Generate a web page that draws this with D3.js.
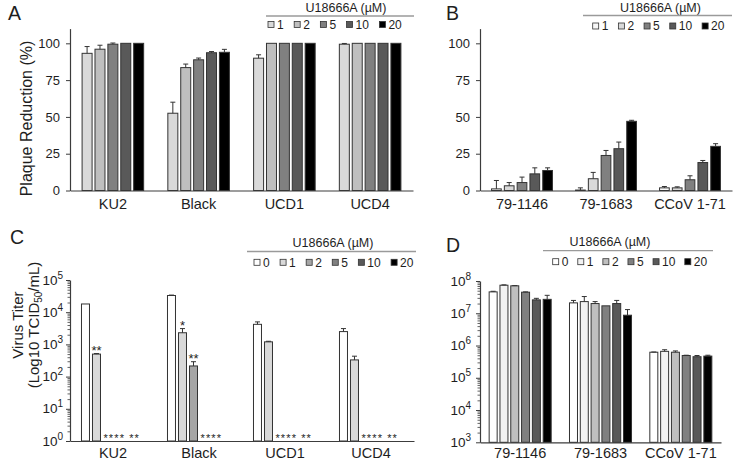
<!DOCTYPE html>
<html><head><meta charset="utf-8">
<script src="https://cdn.jsdelivr.net/npm/d3@7"></script>
<style>
body{margin:0;background:#fff;}
svg{display:block;font-family:"Liberation Sans",Arial,sans-serif;}
</style></head><body>
<svg id="c" width="733" height="460"></svg>
<script>
// ---------- Panel A: plaque reduction (%) ----------
const aGroups = ["KU2", "Black", "UCD1", "UCD4"];
const aDoses = ["1", "2", "5", "10", "20"];
const aS1 = [93.2, 52.5, 89.9, 99.4];
const aS2 = [96.0, 83.5, 100, 100];
const aS3 = [99.4, 88.8, 100, 100];
const aS4 = [100, 93.6, 100, 100];
const aS5 = [100, 93.9, 100, 100];
const aE1 = [4.6, 7.5, 2.3, 0.5];
const aE2 = [2.7, 2.4, 0, 0];
const aE3 = [0.8, 1.2, 0, 0];
const aE4 = [0, 0.8, 0, 0];
const aE5 = [0, 2.0, 0, 0];
const aTicks = [0, 25, 50, 75, 100];

// ---------- Panel B: plaque reduction (%) ----------
const bGroups = ["79-1146", "79-1683", "CCoV 1-71"];
const bDoses = ["1", "2", "5", "10", "20"];
const bS1 = [1.1, 0.3, 1.8];
const bS2 = [3.2, 8.0, 1.8];
const bS3 = [5.4, 23.8, 7.3];
const bS4 = [11.3, 28.4, 19.0];
const bS5 = [13.6, 47.0, 30.0];
const bE1 = [5.7, 1.5, 0.9];
const bE2 = [2.2, 4.3, 0.7];
const bE3 = [3.7, 3.4, 2.7];
const bE4 = [4.1, 4.5, 1.4];
const bE5 = [1.8, 0.7, 1.8];
const bTicks = [0, 25, 50, 75, 100];

// ---------- Panel C: virus titer (log) ----------
const cGroups = ["KU2", "Black", "UCD1", "UCD4"];
const cDoses = ["0", "1", "2", "5", "10", "20"];
const cS0 = [18000, 33000, 4200, 2500];
const cS1 = [500, 2300, 1200, 330];
const cS2 = [0, 214, 0, 0];
const cS3 = [0, 0, 0, 0];
const cS4 = [0, 0, 0, 0];
const cS5 = [0, 0, 0, 0];
const cE0 = [0, 1000, 800, 600];
const cE1 = [20, 800, 50, 100];
const cE2 = [0, 76, 0, 0];
const cE3 = [0, 0, 0, 0];
const cE4 = [0, 0, 0, 0];
const cE5 = [0, 0, 0, 0];
const cStarsTop = [["", "**", "", "", "", ""], ["", "*", "**", "", "", ""], ["", "", "", "", "", ""], ["", "", "", "", "", ""]];
const cStarsBase = ["**** **", "****", "**** **", "**** **"];
const cStarsFrom = [2, 3, 2, 2];
const cTickExp = [0, 1, 2, 3, 4, 5];

// ---------- Panel D: virus titer (log) ----------
const dGroups = ["79-1146", "79-1683", "CCoV 1-71"];
const dDoses = ["0", "1", "2", "5", "10", "20"];
const dS0 = [4.6e7, 2.1e7, 6.2e5];
const dS1 = [7.4e7, 2.3e7, 6.6e5];
const dS2 = [7.1e7, 2.0e7, 6.2e5];
const dS3 = [4.5e7, 1.7e7, 4.9e5];
const dS4 = [2.6e7, 2.0e7, 4.5e5];
const dS5 = [2.7e7, 8.7e6, 4.7e5];
const dE0 = [2e6, 4e6, 1e4];
const dE1 = [2e6, 1e7, 8e4];
const dE2 = [1e6, 3e6, 6e4];
const dE3 = [1e6, 0, 1e4];
const dE4 = [3e6, 5e6, 4e4];
const dE5 = [9e6, 4.3e6, 3e4];
const dTickExp = [3, 4, 5, 6, 7, 8];

const legendTitle = "U18666A (µM)";

// ---------- drawing ----------
const svg = d3.select("#c");
const AX = "#3c3c3c", TXT = "#1e1e1e", EDGE = "#333";

function barPanel(o) {
  const g = svg.append("g");
  const xg = d3.scaleBand().domain(o.groups).range([o.x0, o.x1]).paddingInner(o.gp).paddingOuter(o.gp / 2);
  const xs = d3.scaleBand().domain(d3.range(o.values.length)).range([0, xg.bandwidth()]).paddingInner(o.bp);
  const yBase = o.y.range()[0];
  const bars = [];
  o.values.forEach((ser, i) => ser.forEach((v, j) => {
    bars.push({i, j, v, e: o.errs[i][j], x: xg(o.groups[j]) + xs(i)});
  }));
  const drawn = bars.filter(d => d.v > 0);
  g.selectAll("rect.bar").data(drawn).join("rect")
    .attr("x", d => d.x).attr("y", d => o.y(d.v))
    .attr("width", xs.bandwidth()).attr("height", d => yBase - o.y(d.v))
    .attr("fill", d => o.colors[d.i]).attr("stroke", EDGE).attr("stroke-width", 1);
  const eb = drawn.filter(d => d.e > 0);
  const cx = d => d.x + xs.bandwidth() / 2;
  g.selectAll("line.ev").data(eb).join("line")
    .attr("x1", cx).attr("x2", cx)
    .attr("y1", d => o.y(d.v)).attr("y2", d => o.y(d.v + d.e))
    .attr("stroke", EDGE).attr("stroke-width", 1);
  g.selectAll("line.ec").data(eb).join("line")
    .attr("x1", d => cx(d) - 2.5).attr("x2", d => cx(d) + 2.5)
    .attr("y1", d => o.y(d.v + d.e)).attr("y2", d => o.y(d.v + d.e))
    .attr("stroke", EDGE).attr("stroke-width", 1);
  const xa = g.append("g").attr("transform", `translate(0,${yBase})`)
    .call(d3.axisBottom(xg).tickSize(0).tickPadding(o.xpad));
  xa.select(".domain").attr("stroke", AX).attr("stroke-width", 1.2);
  xa.selectAll("text").attr("font-size", 14.5).attr("fill", TXT).attr("font-family", null);
  return {g, xg, xs, bars};
}

function styleAxis(sel) {
  sel.select(".domain").attr("stroke", AX).attr("stroke-width", 1.2);
  sel.selectAll(".tick line").attr("stroke", AX);
  sel.selectAll("text").attr("fill", TXT).attr("font-family", null);
}

function linY(x0, y, ticks) {
  const a = svg.append("g").attr("transform", `translate(${x0},0)`)
    .call(d3.axisLeft(y).tickValues(ticks).tickSize(4).tickPadding(6).tickSizeOuter(0));
  styleAxis(a);
  a.selectAll("text").attr("font-size", 13);
}

function logY(x0, y, exps, labelGap) {
  const minors = [];
  for (let k = exps[0]; k < exps[exps.length - 1]; k++) for (let m = 2; m <= 9; m++) minors.push(m * Math.pow(10, k));
  const a = svg.append("g").attr("transform", `translate(${x0},0)`)
    .call(d3.axisLeft(y).tickValues(exps.map(e => Math.pow(10, e))).tickSize(4).tickFormat("").tickSizeOuter(0));
  styleAxis(a);
  const m = svg.append("g").attr("transform", `translate(${x0},0)`)
    .call(d3.axisLeft(y).tickValues(minors).tickSize(2.5).tickFormat(""));
  m.select(".domain").remove();
  m.selectAll(".tick line").attr("stroke", AX).attr("stroke-width", 0.8);
  const lab = svg.append("g").selectAll("text").data(exps).join("text")
    .attr("x", x0 - labelGap).attr("y", e => y(Math.pow(10, e)) + 4.6)
    .attr("text-anchor", "end").attr("fill", TXT).attr("font-size", 13.5);
  lab.append("tspan").text("10");
  lab.append("tspan").attr("dy", -6).attr("font-size", 10).text(e => e);
}

function legend(o) {
  const g = svg.append("g");
  g.append("text").attr("x", o.tx).attr("y", o.ty).attr("text-anchor", "middle")
    .attr("font-size", 12.5).attr("fill", TXT).text(legendTitle);
  g.append("line").attr("x1", o.lx0).attr("x2", o.lx1).attr("y1", o.ly).attr("y2", o.ly)
    .attr("stroke", "#9a9a9a").attr("stroke-width", 1.3);
  let x = o.ix;
  o.labels.forEach((lab, i) => {
    g.append("rect").attr("x", x).attr("y", o.iy - 3).attr("width", 6).attr("height", 6)
      .attr("fill", o.colors[i]).attr("stroke", EDGE).attr("stroke-width", 0.8);
    const t = g.append("text").attr("x", x + 9).attr("y", o.iy + 4.3).attr("font-size", 12)
      .attr("fill", TXT).text(lab);
    x += 9 + t.node().getComputedTextLength() + o.sp;
  });
}

function panelLetter(t, x, y) {
  svg.append("text").attr("x", x).attr("y", y).attr("font-size", 19.5).attr("fill", TXT).text(t);
}

// ----- A -----
const aColors = ["#d9d9d9", "#bfbfbf", "#808080", "#595959", "#000000"];
const yA = d3.scaleLinear().domain([0, 110]).range([190.5, 28.6]);
barPanel({groups: aGroups, values: [aS1, aS2, aS3, aS4, aS5], errs: [aE1, aE2, aE3, aE4, aE5],
  colors: aColors, x0: 70, x1: 413, y: yA, gp: 0.282, bp: 0.225, xpad: 8.7});
linY(70, yA, aTicks);
legend({tx: 346, ty: 11.5, lx0: 266, lx1: 414, ly: 16, ix: 268, iy: 24.5, sp: 10.5, labels: aDoses, colors: aColors});
panelLetter("A", 8, 20);
svg.append("text").attr("transform", "translate(32,118.5) rotate(-90)").attr("text-anchor", "middle")
  .attr("font-size", 16).attr("fill", TXT).text("Plaque Reduction (%)");

// ----- B -----
const bColors = ["#f7f7f7", "#d9d9d9", "#808080", "#595959", "#000000"];
barPanel({groups: bGroups, values: [bS1, bS2, bS3, bS4, bS5], errs: [bE1, bE2, bE3, bE4, bE5],
  colors: bColors, x0: 480, x1: 732, y: yA, gp: 0.275, bp: 0.242, xpad: 8.7});
linY(480, yA, bTicks);
legend({tx: 660.5, ty: 11.5, lx0: 583, lx1: 732, ly: 15.5, ix: 592.7, iy: 26, sp: 10, labels: bDoses, colors: bColors});
panelLetter("B", 446, 20);

// ----- C -----
const cColors = ["#ffffff", "#d9d9d9", "#a6a6a6", "#808080", "#595959", "#000000"];
const yC = d3.scaleLog().domain([1, 1e5]).range([441, 280]);
const pc = barPanel({groups: cGroups, values: [cS0, cS1, cS2, cS3, cS4, cS5], errs: [cE0, cE1, cE2, cE3, cE4, cE5],
  colors: cColors, x0: 70, x1: 414, y: yC, gp: 0.267, bp: 0.273, xpad: 6.6});
logY(70, yC, cTickExp, 7);
const cVals = [cS0, cS1, cS2, cS3, cS4, cS5], cErrs = [cE0, cE1, cE2, cE3, cE4, cE5];
cStarsTop.forEach((row, j) => row.forEach((s, i) => {
  if (!s) return;
  const top = yC(cVals[i][j] + cErrs[i][j]);
  svg.append("text").attr("x", pc.xg(cGroups[j]) + pc.xs(i) + pc.xs.bandwidth() / 2).attr("y", top + 1.5)
    .attr("text-anchor", "middle").attr("font-size", 13).attr("fill", TXT).text(s);
}));
cStarsBase.forEach((s, j) => {
  svg.append("text").attr("x", pc.xg(cGroups[j]) + pc.xs(cStarsFrom[j])).attr("y", 442.2)
    .attr("font-size", 11).attr("letter-spacing", 1.1).attr("fill", TXT).text(s);
});
legend({tx: 333, ty: 246.5, lx0: 247, lx1: 416, ly: 251.5, ix: 254, iy: 262.3, sp: 10.4, labels: cDoses, colors: cColors});
panelLetter("C", 10, 244);
svg.append("text").attr("transform", "translate(22.5,325) rotate(-90)").attr("text-anchor", "middle")
  .attr("font-size", 15).attr("fill", TXT).text("Virus Titer");
const t2 = svg.append("text").attr("transform", "translate(38.5,325) rotate(-90)").attr("text-anchor", "middle")
  .attr("font-size", 15).attr("fill", TXT);
t2.append("tspan").text("(Log10 TCID");
t2.append("tspan").attr("font-size", 10).attr("dy", 3).text("50");
t2.append("tspan").attr("dy", -3).text("/mL)");

// ----- D -----
const dColors = ["#ffffff", "#f2f2f2", "#bfbfbf", "#808080", "#595959", "#000000"];
const yD = d3.scaleLog().domain([1e3, 1e8]).range([442.3, 281]);
barPanel({groups: dGroups, values: [dS0, dS1, dS2, dS3, dS4, dS5], errs: [dE0, dE1, dE2, dE3, dE4, dE5],
  colors: dColors, x0: 480, x1: 721, y: yD, gp: 0.228, bp: 0.26, xpad: 5.4});
logY(480, yD, dTickExp, 9);
legend({tx: 610, ty: 246, lx0: 543, lx1: 713, ly: 250.7, ix: 552.7, iy: 261.7, sp: 9.4, labels: dDoses, colors: dColors});
panelLetter("D", 446, 252);
</script>
</body></html>
